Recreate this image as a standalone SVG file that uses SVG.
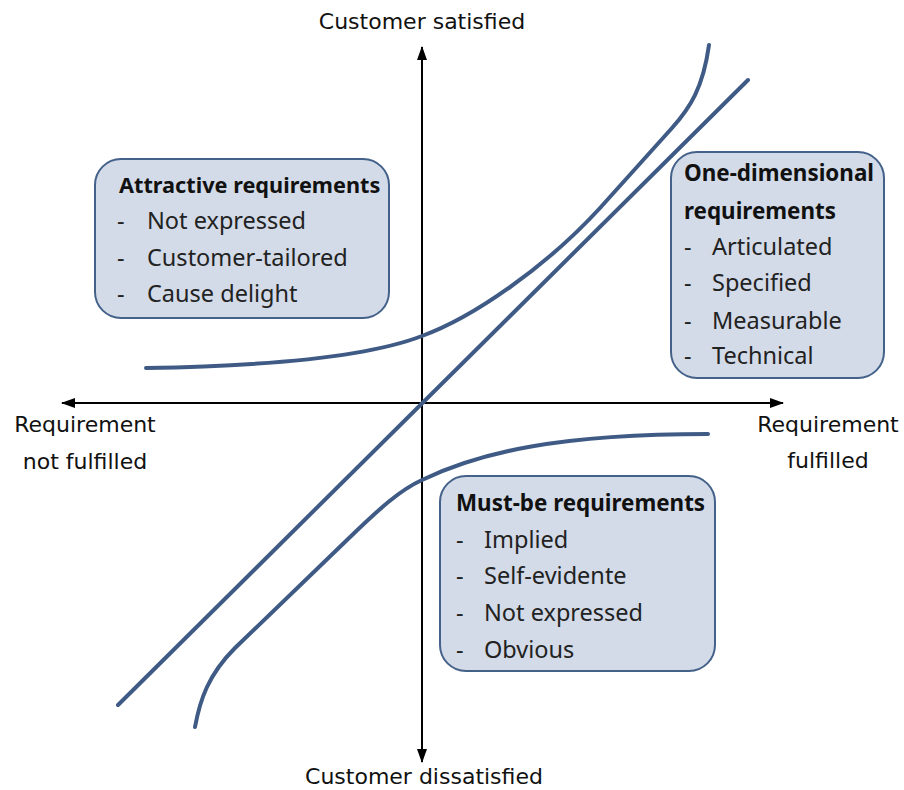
<svg xmlns="http://www.w3.org/2000/svg" width="904" height="790" viewBox="0 0 904 790">
  <style>
    .axis { stroke: #000; stroke-width: 2; fill: none; }
    .curve { stroke: #3f5b85; stroke-width: 4; fill: none; stroke-linecap: round; stroke-linejoin: round; }
    .box { fill: #d3dbe8; stroke: #44618a; stroke-width: 2; }
    .lbl { font-family: "DejaVu Sans", "Liberation Sans", sans-serif; font-size: 22px; fill: #111; }
    .head { font-family: "Noto Sans", "Open Sans", sans-serif; font-size: 22.4px; font-weight: bold; fill: #111; }
    .item { font-family: "Noto Sans", "Open Sans", sans-serif; font-size: 23.5px; fill: #222; }
  </style>
  <defs>
    <marker id="arr" viewBox="0 0 14 10" refX="13" refY="5" markerWidth="14" markerHeight="10" orient="auto" markerUnits="userSpaceOnUse">
      <path d="M0,0 L14,5 L0,10 z" fill="#000"/>
    </marker>
  </defs>
  <rect width="904" height="790" fill="#fff"/>

  <g id="connectors">
    <!-- axes -->
    <line class="axis" x1="422" y1="403" x2="422" y2="47" marker-end="url(#arr)"/>
    <line class="axis" x1="422" y1="403" x2="422" y2="762" marker-end="url(#arr)"/>
    <line class="axis" x1="422" y1="403" x2="62" y2="403" marker-end="url(#arr)"/>
    <line class="axis" x1="422" y1="403" x2="783" y2="403" marker-end="url(#arr)"/>
    <!-- one-dimensional line -->
    <line class="curve" x1="118" y1="705" x2="748" y2="80"/>
    <!-- attractive curve -->
    <path class="curve" d="M146,368 C270,366 370,356 422,336 C472,318 545,268 600,208 L672,128 C690,108 703,88 709,45"/>
    <!-- must-be curve -->
    <path class="curve" d="M195,727 C200,700 208,675 235,648 L347,540 C380,508 400,490 422,480 C480,452 560,434 708,434"/>
  </g>

  <g id="axis-labels">
    <text class="lbl" x="422" y="29" text-anchor="middle">Customer satisfied</text>
    <text class="lbl" x="424" y="784" text-anchor="middle">Customer dissatisfied</text>
    <text class="lbl" x="85" y="432" text-anchor="middle">Requirement</text>
    <text class="lbl" x="85" y="469" text-anchor="middle">not fulfilled</text>
    <text class="lbl" x="828" y="432" text-anchor="middle">Requirement</text>
    <text class="lbl" x="828" y="468" text-anchor="middle">fulfilled</text>
  </g>

  <g id="attractive">
    <rect class="box" x="95" y="159" width="294" height="159" rx="26"/>
    <text class="head" x="119" y="193" style="font-size:21.7px">Attractive requirements</text>
    <text class="item" x="117" y="229">-</text><text class="item" x="147" y="229">Not expressed</text>
    <text class="item" x="117" y="266">-</text><text class="item" x="147" y="266">Customer-tailored</text>
    <text class="item" x="117" y="302">-</text><text class="item" x="147" y="302">Cause delight</text>
  </g>

  <g id="one-dimensional">
    <rect class="box" x="671" y="152" width="213" height="226" rx="26"/>
    <text class="head" x="684" y="181">One-dimensional</text>
    <text class="head" x="684" y="219">requirements</text>
    <text class="item" x="684" y="255">-</text><text class="item" x="712" y="255">Articulated</text>
    <text class="item" x="684" y="291">-</text><text class="item" x="712" y="291">Specified</text>
    <text class="item" x="684" y="329">-</text><text class="item" x="712" y="329">Measurable</text>
    <text class="item" x="684" y="364">-</text><text class="item" x="712" y="364">Technical</text>
  </g>

  <g id="must-be">
    <rect class="box" x="440" y="476" width="275" height="195" rx="26"/>
    <text class="head" x="456" y="511">Must-be requirements</text>
    <text class="item" x="456" y="548">-</text><text class="item" x="484" y="548">Implied</text>
    <text class="item" x="456" y="584">-</text><text class="item" x="484" y="584">Self-evidente</text>
    <text class="item" x="456" y="621">-</text><text class="item" x="484" y="621">Not expressed</text>
    <text class="item" x="456" y="658">-</text><text class="item" x="484" y="658">Obvious</text>
  </g>
</svg>
